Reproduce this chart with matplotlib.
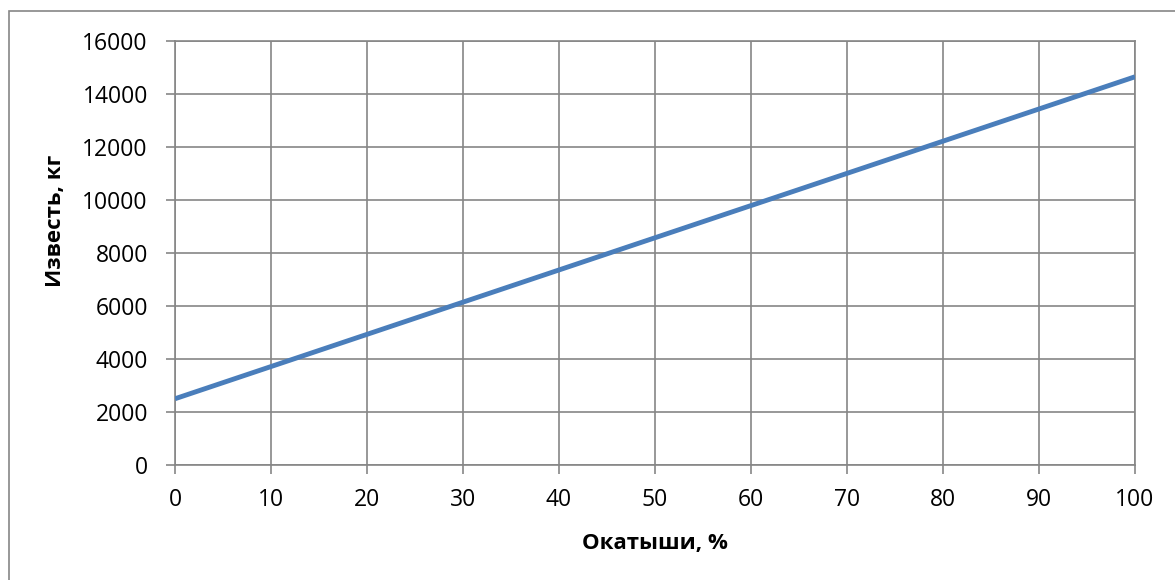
import matplotlib
matplotlib.use('Agg')
import matplotlib.pyplot as plt
import matplotlib.patches as mpatches

# data
okatyshi = [0, 10, 20, 30, 40, 50, 60, 70, 80, 90, 100]
izvest = [2500, 3715, 4930, 6145, 7360, 8575, 9790, 11005, 12220, 13435, 14650]

x_ticks = [0, 10, 20, 30, 40, 50, 60, 70, 80, 90, 100]
y_ticks = [0, 2000, 4000, 6000, 8000, 10000, 12000, 14000, 16000]

plt.rcParams['font.family'] = ['Open Sans', 'DejaVu Sans']

W, H = 1175, 580
fig = plt.figure(figsize=(W / 100, H / 100), dpi=100)
ax = fig.add_axes([175/W, 1 - 465/H, (1135-175)/W, (465-41)/H])

ax.plot(okatyshi, izvest, color='#4a7ebb', linewidth=3.5, solid_capstyle='butt', zorder=3)

ax.set_xlim(0, 100)
ax.set_ylim(0, 16000)
ax.set_xticks(x_ticks)
ax.set_yticks(y_ticks)
ax.grid(True, color='#868686', linewidth=1.2)
ax.set_axisbelow(True)
for s in ax.spines.values():
    s.set_color('#868686')
    s.set_linewidth(1.2)
ax.tick_params(axis='both', direction='out', length=6.5, color='#868686', width=1.2, labelsize=16.5)
ax.tick_params(axis='x', pad=10)
ax.tick_params(axis='y', pad=13)

# axis titles placed like the reference
fig.text(655/W, 1 - 544/H, 'Окатыши, %', fontsize=16, fontweight='bold',
         ha='center', va='center')
fig.text(55/W, 1 - 221/H, 'Известь, кг', fontsize=16, fontweight='bold',
         ha='center', va='center', rotation=90)

# outer chart border (only left and top visible)
fig.patches.append(mpatches.Rectangle((8.5/W, -0.05), 1.1, 1.05 - 11/H,
                                      transform=fig.transFigure, fill=False,
                                      edgecolor='#868686', linewidth=1.2))

plt.savefig('out.png', dpi=100)
plt.close()
